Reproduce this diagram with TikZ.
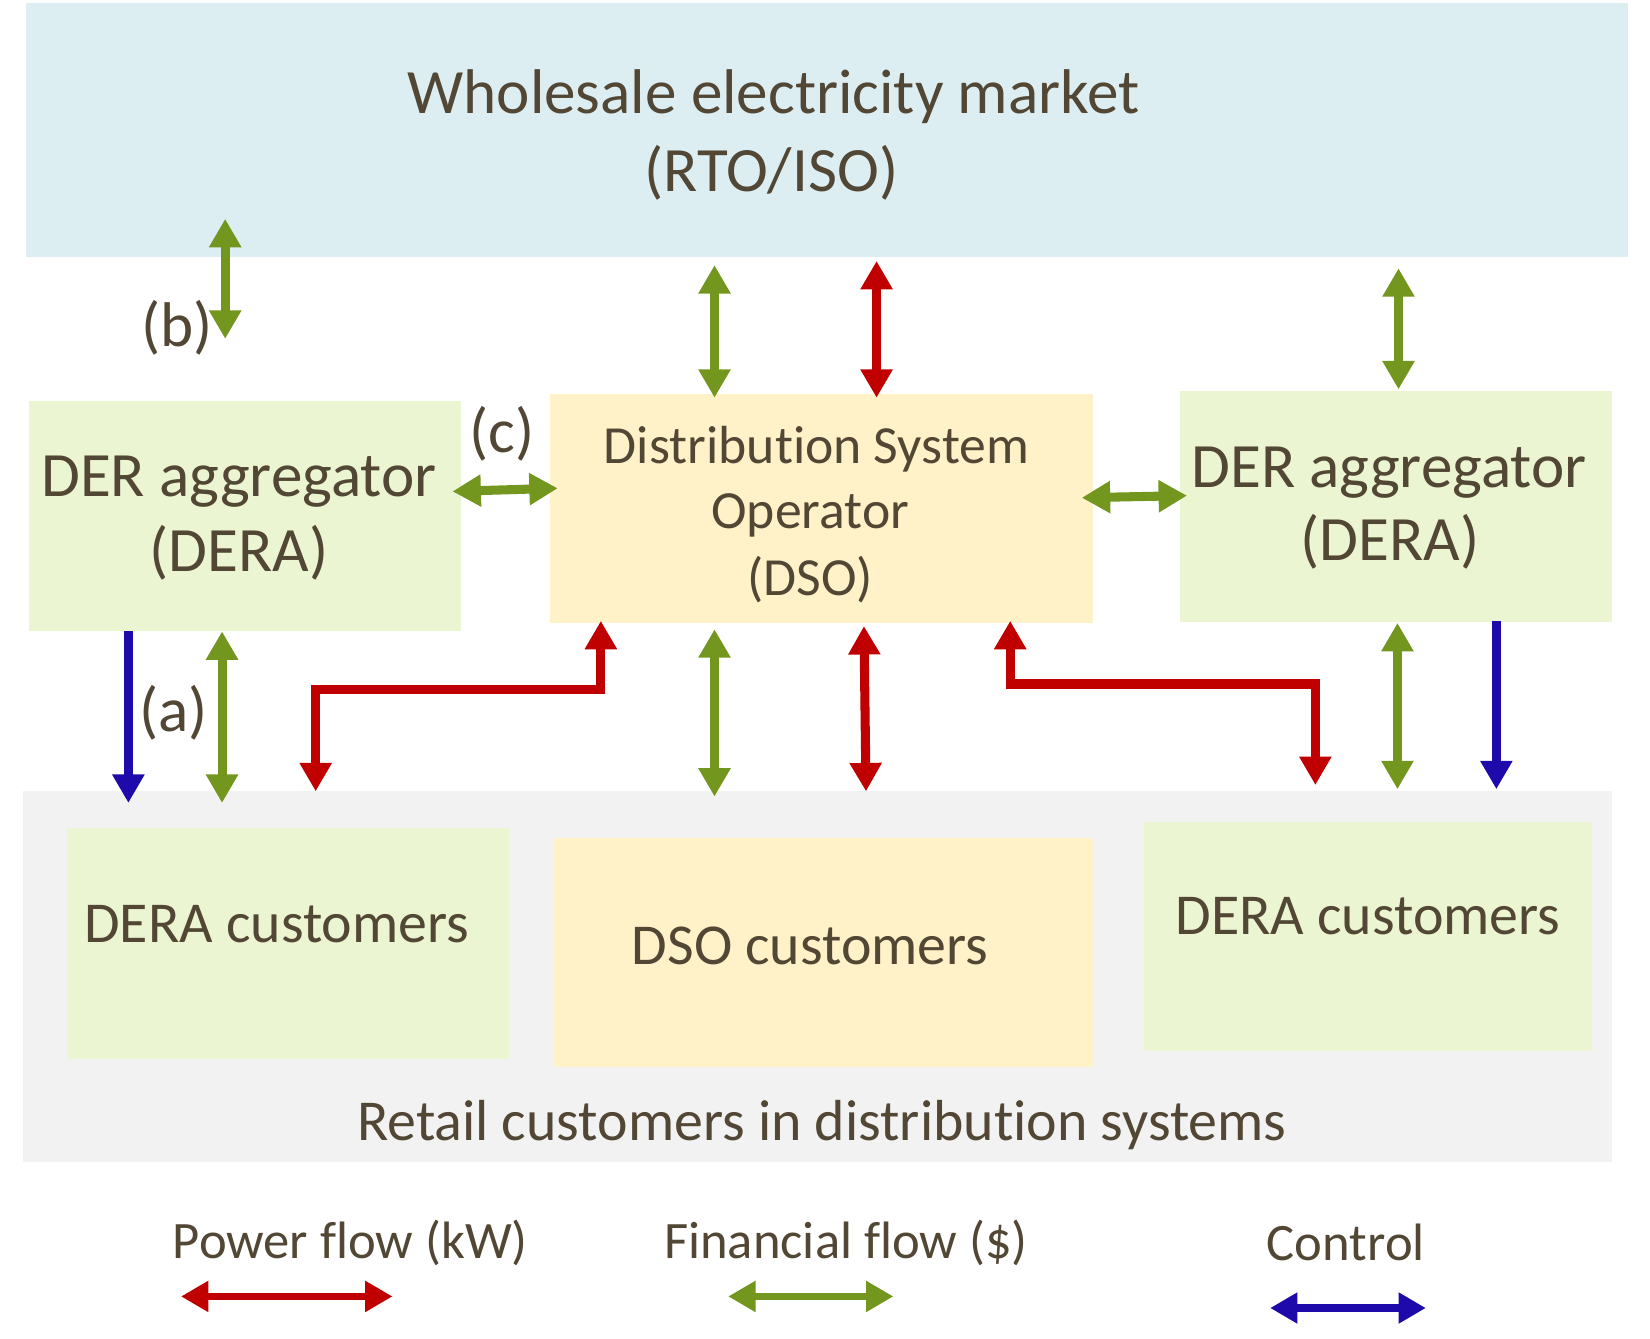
\documentclass[tikz,border=0pt]{standalone}
\usepackage{fontspec}
\setmainfont{Carlito}[Ligatures={NoCommon}]
\usetikzlibrary{arrows.meta}
\definecolor{txt}{RGB}{82,70,52}
\definecolor{bandblue}{RGB}{221,238,242}
\definecolor{boxgreen}{RGB}{235,245,210}
\definecolor{boxyellow}{RGB}{255,242,200}
\definecolor{bandgray}{RGB}{242,242,242}
\definecolor{pred}{RGB}{192,0,0}
\definecolor{fgreen}{RGB}{115,150,30}
\definecolor{cblue}{RGB}{30,10,170}
\tikzset{
  box/.style={draw=none, inner sep=0pt, outer sep=0pt},
  lbl/.style={text=txt, inner sep=0pt, anchor=base},
  bigf/.style={font=\fontsize{30}{36}\selectfont},
  custf/.style={font=\fontsize{27.5}{33}\selectfont},
  dsof/.style={font=\fontsize{25.5}{30}\selectfont},
  legf/.style={font=\fontsize{25}{30}\selectfont},
  flow/.style={line width=4.3pt, line join=miter, line cap=butt},
  both/.style={flow, {Triangle[length=13.5pt,width=14.5pt]}-{Triangle[length=13.5pt,width=14.5pt]}},
  one/.style={flow, -{Triangle[length=13.5pt,width=14.5pt]}},
  legarrow/.style={line width=3.6pt, {Triangle[length=13pt,width=14pt]}-{Triangle[length=13pt,width=14pt]}},
}
\begin{document}
\begin{tikzpicture}[x=0.5pt,y=-0.5pt]
\useasboundingbox (0,0) rectangle (1568,1272);
% background areas
\node[box, fill=bandblue, minimum width=761pt, minimum height=120.5pt] (wm) at (786,123.5) {};
\node[box, fill=bandgray, minimum width=755pt, minimum height=176pt] (retail) at (777,928) {};
\node[box, fill=boxgreen, minimum width=205pt, minimum height=109.5pt] (deraL) at (233,490.5) {};
\node[box, fill=boxyellow, minimum width=258pt, minimum height=109pt] (dso) at (781,483) {};
\node[box, fill=boxgreen, minimum width=205.5pt, minimum height=109.5pt] (deraR) at (1326.5,481.5) {};
\node[box, fill=boxgreen, minimum width=210pt, minimum height=109.5pt] (custL) at (274,896.5) {};
\node[box, fill=boxyellow, minimum width=256.5pt, minimum height=109pt] (custD) at (782.5,905) {};
\node[box, fill=boxgreen, minimum width=213pt, minimum height=109pt] (custR) at (1300,890) {};
% texts
\node[lbl, bigf] (wmA) at (735,108) {Wholesale electricity market};
\node[lbl, bigf] (wmB) at (733,182) {(RTO/ISO)};
\node[lbl, bigf] (dlA) at (227,472) {DER aggregator};
\node[lbl, bigf] (dlB) at (227,543) {(DERA)};
\node[lbl, dsof] (dsA) at (776,440) {Distribution System};
\node[lbl, dsof] (dsB) at (770,502) {Operator};
\node[lbl, dsof] (dsC) at (770,566) {(DSO)};
\node[lbl, bigf] (drA) at (1320,463) {DER aggregator};
\node[lbl, bigf] (drB) at (1321,533) {(DERA)};
\node[lbl, custf] (clT) at (263,896) {DERA customers};
\node[lbl, custf] (cdT) at (770,917) {DSO customers};
\node[lbl, custf] (crT) at (1300,888) {DERA customers};
\node[lbl, custf] (rtT) at (781,1084) {Retail customers in distribution systems};
\node[lbl, bigf] (lb) at (168,329) {(b)};
\node[lbl, bigf] (lc) at (477,430) {(c)};
\node[lbl, bigf] (la) at (165,695) {(a)};
\node[lbl, legf] (lgP) at (333,1196) {Power flow (kW)};
\node[lbl, legf] (lgF) at (804,1196) {Financial flow (\$)};
\node[lbl, legf] (lgC) at (1279,1198) {Control};
% connector end points
\coordinate (b1) at (214,208); \coordinate (b2) at (214,322);
\coordinate (g1a) at (679,252); \coordinate (g1b) at (679,378);
\coordinate (r1a) at (833,248); \coordinate (r1b) at (833,378);
\coordinate (g2a) at (1329,255); \coordinate (g2b) at (1329,370);
\coordinate (c1) at (430,467); \coordinate (c2) at (530,464);
\coordinate (e1) at (1028,473); \coordinate (e2) at (1128,471);
\coordinate (bl1) at (122,600); \coordinate (bl2) at (122,763);
\coordinate (gl1) at (211,600); \coordinate (gl2) at (211,763);
\coordinate (rl1) at (571,590); \coordinate (rl2) at (300,752);
\coordinate (gm1) at (679,598); \coordinate (gm2) at (679,757);
\coordinate (rm1) at (821,595); \coordinate (rm2) at (823,752);
\coordinate (rr1) at (960,590); \coordinate (rr2) at (1250,746);
\coordinate (gr1) at (1328,592); \coordinate (gr2) at (1328,750);
\coordinate (br1) at (1422,590); \coordinate (br2) at (1422,750);
\coordinate (lp1) at (172,1232); \coordinate (lp2) at (373,1232);
\coordinate (lf1) at (692,1232); \coordinate (lf2) at (849,1232);
\coordinate (lk1) at (1207,1243); \coordinate (lk2) at (1355,1243);
% connectors
\draw[both, fgreen] (b1) -- (b2);
\draw[both, fgreen] (g1a) -- (g1b);
\draw[both, pred] (r1a) -- (r1b);
\draw[both, fgreen] (g2a) -- (g2b);
\draw[both, fgreen] (c1) -- (c2);
\draw[both, fgreen] (e1) -- (e2);
\draw[one, cblue] (bl1) -- (bl2);
\draw[both, fgreen] (gl1) -- (gl2);
\draw[both, pred] (rl1) -- (571,655) -- (300,655) -- (rl2);
\draw[both, fgreen] (gm1) -- (gm2);
\draw[both, pred] (rm1) -- (rm2);
\draw[both, pred] (rr1) -- (960,650) -- (1250,650) -- (rr2);
\draw[both, fgreen] (gr1) -- (gr2);
\draw[one, cblue] (br1) -- (br2);
\draw[legarrow, pred] (lp1) -- (lp2);
\draw[legarrow, fgreen] (lf1) -- (lf2);
\draw[legarrow, cblue] (lk1) -- (lk2);
\end{tikzpicture}
\end{document}
